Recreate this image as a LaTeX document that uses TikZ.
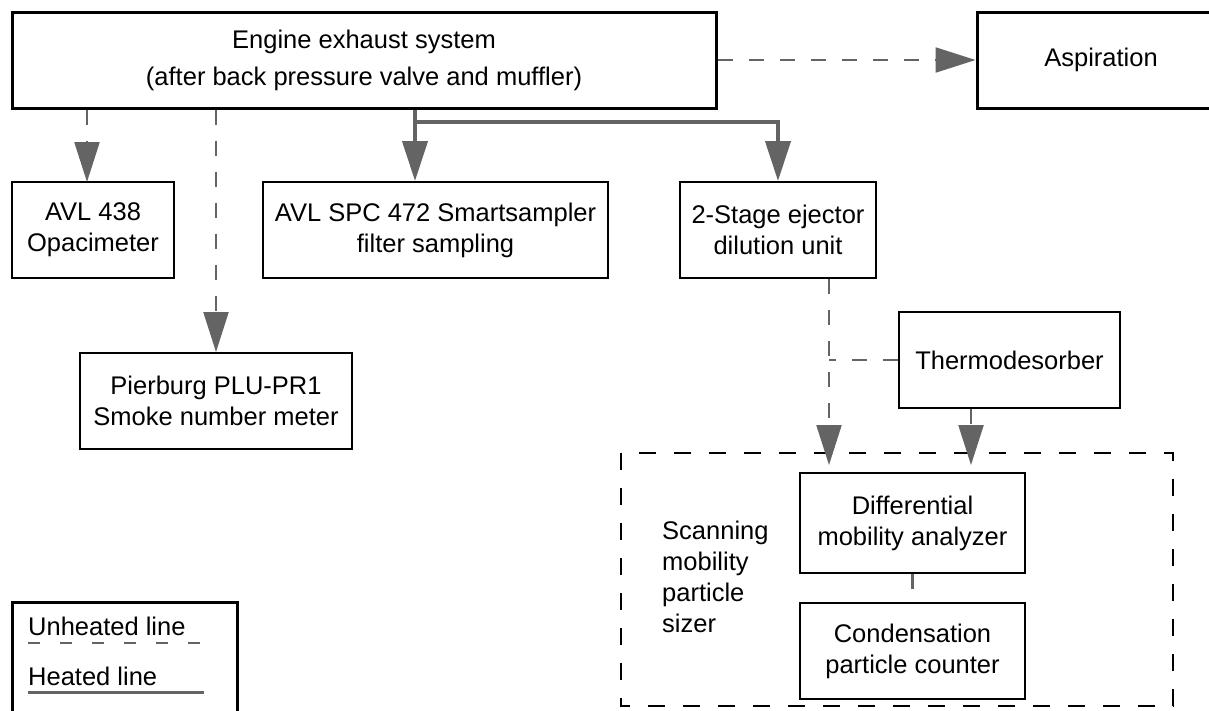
\documentclass[tikz,border=0pt]{standalone}
\usepackage{fontspec}
\setmainfont{Liberation Sans}
\usetikzlibrary{arrows.meta,positioning}

\definecolor{pipegray}{RGB}{100,100,100}

\tikzset{
  box/.style={draw, line width=2pt, align=center, inner sep=0pt},
  bigbox/.style={box, line width=3pt},
  unheated/.style={pipegray, line width=2.2pt, dash pattern=on 15pt off 16pt},
  heated/.style={pipegray, line width=4pt},
  flow/.style={-{Triangle[width=25pt,length=40pt]}},
  smpsframe/.style={line width=2pt, dash pattern=on 17pt off 18pt},
}

\begin{document}
\begin{tikzpicture}[x=1pt,y=-1pt,font=\fontsize{25.5}{31}\selectfont]
\path[use as bounding box] (0,0) rectangle (1209,710);
\clip (0,0) rectangle (1209,710);
\fill[white] (0,0) rectangle (1209,710);

% sources and samplers
\node[bigbox, minimum width=704pt, minimum height=96pt, font=\fontsize{25.5}{37}\selectfont] (engine) at (364,60) {Engine exhaust system\\(after back pressure valve and muffler)};
\node[bigbox, minimum width=248pt, minimum height=96pt] (asp) at (1101,60) {Aspiration};
\node[box, minimum width=162pt, minimum height=96pt] (opa) at (93,230) {AVL 438\\Opacimeter};
\node[box, minimum width=345pt, minimum height=96pt] (spc) at (435.5,230) {AVL SPC 472 Smartsampler\\filter sampling};
\node[box, minimum width=196pt, minimum height=96pt] (dil) at (778,230) {2-Stage ejector\\dilution unit};
\node[box, minimum width=272pt, minimum height=96pt] (pier) at (216,401) {Pierburg PLU-PR1\\Smoke number meter};
\node[box, minimum width=221pt, minimum height=96pt] (thermo) at (1009.5,360) {Thermodesorber};

% SMPS
\draw[smpsframe] (621,453) rectangle (1173,706);
\node[anchor=north west, align=left, inner sep=0pt] (smps) at (662,521) {Scanning\\mobility\\particle\\sizer};
\node[box, minimum width=225pt, minimum height=100pt] (dma) at (912.5,523) {Differential\\mobility analyzer};
\node[box, minimum width=225pt, minimum height=96pt] (cpc) at (912.5,651) {Condensation\\particle counter};

% sample lines
\coordinate (opain) at (87,182);
\coordinate (hsplit) at (415,122);
\coordinate (dmain) at (829,465);
\coordinate (tdin) at (971,465);

\draw[unheated,flow] (engine.east) -- (asp.west);
\draw[unheated,flow] (engine.south -| opain) -- (opain);
\draw[unheated,flow] (engine.south -| pier.north) -- (pier.north);
\draw[heated] (engine.south -| hsplit) -- (hsplit);
\draw[heated,flow] (hsplit) -- (spc.north -| hsplit);
\draw[heated,flow] (hsplit) -| (dil.north);
\draw[unheated,flow] (dil.south -| dmain) -- (dmain);
\draw[unheated] (thermo.west) -- (thermo.west -| dmain);
\draw[unheated,flow] (thermo.south -| tdin) -- (tdin);
\draw[unheated] (dma.south) -- (cpc.north);

% legend
\draw[line width=3pt] (12,602) rectangle (237,760);
\node[anchor=base west, inner sep=0pt] (unh) at (28,635) {Unheated line};
\node[anchor=base west, inner sep=0pt] (hea) at (28,685) {Heated line};
\draw[unheated, dash pattern=on 12pt off 20pt] ([yshift=-8pt]unh.base west) -- ++(173,0);
\draw[heated, line width=3pt] ([yshift=-7pt]hea.base west) -- ++(176,0);
\end{tikzpicture}
\end{document}
